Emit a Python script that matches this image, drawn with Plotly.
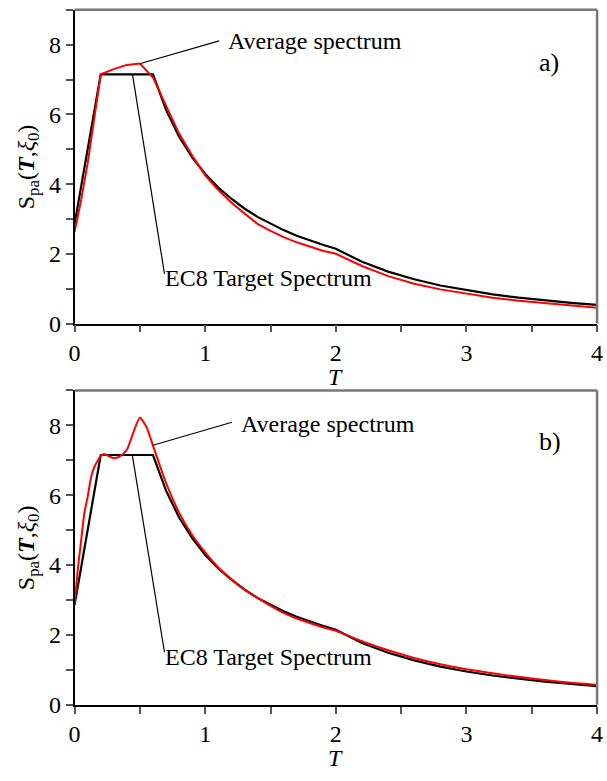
import plotly.graph_objects as go

# EC8 elastic target spectrum (shared by both panels)
T_ec8 = [0.0, 0.2, 0.6, 0.7, 0.8, 0.9, 1.0, 1.1, 1.2, 1.3, 1.4, 1.5, 1.6, 1.7,
         1.8, 1.9, 2.0, 2.2, 2.4, 2.6, 2.8, 3.0, 3.2, 3.4, 3.6, 3.8, 4.0]
S_ec8 = [2.86, 7.15, 7.15, 6.13, 5.36, 4.77, 4.29, 3.90, 3.58, 3.30, 3.06, 2.86, 2.68, 2.52,
         2.38, 2.26, 2.145, 1.77, 1.49, 1.27, 1.09, 0.953, 0.838, 0.742, 0.662, 0.594, 0.536]

# Average spectrum, panel a)
T_avg_a = [0.0, 0.05, 0.1, 0.2, 0.3, 0.4, 0.5, 0.6, 0.7, 0.8, 0.9, 1.0, 1.1, 1.2, 1.3,
           1.4, 1.5, 1.6, 1.7, 1.8, 1.9, 2.0, 2.2, 2.4, 2.6, 2.8, 3.0, 3.2, 3.4, 3.6, 3.8, 4.0]
S_avg_a = [2.63, 3.55, 4.6, 7.15, 7.3, 7.42, 7.46, 7.06, 6.25, 5.45, 4.82, 4.25, 3.83, 3.47, 3.16,
           2.86, 2.66, 2.48, 2.33, 2.2, 2.09, 2.0, 1.65, 1.36, 1.14, 0.98, 0.85, 0.74, 0.655, 0.58, 0.51, 0.45]

# Average spectrum, panel b)
T_avg_b = [0.0, 0.025, 0.05, 0.075, 0.1, 0.125, 0.15, 0.2, 0.225, 0.25, 0.3, 0.35, 0.4, 0.45,
           0.5, 0.55, 0.6, 0.7, 0.8, 0.9, 1.0, 1.1, 1.2, 1.3, 1.4, 1.5, 1.6, 1.7, 1.8, 1.9,
           2.0, 2.2, 2.4, 2.6, 2.8, 3.0, 3.2, 3.4, 3.6, 3.8, 4.0]
S_avg_b = [2.9, 3.9, 4.7, 5.5, 5.95, 6.5, 6.8, 7.12, 7.18, 7.14, 7.06, 7.12, 7.3, 7.8,
           8.22, 7.95, 7.42, 6.35, 5.5, 4.86, 4.36, 3.93, 3.6, 3.3, 3.06, 2.83, 2.63, 2.47, 2.34, 2.22,
           2.12, 1.82, 1.56, 1.34, 1.16, 1.02, 0.9, 0.8, 0.71, 0.63, 0.57]

x_ticks = [0, 1, 2, 3, 4]
y_ticks = [0, 2, 4, 6, 8]

FONT = "Liberation Serif"
W, H = 607, 781

fig = go.Figure()

panels = [
    ("x", "y", T_avg_a, S_avg_a, "linear"),
    ("x2", "y2", T_avg_b, S_avg_b, "spline"),
]
for xr, yr, tx, sy, shape in panels:
    fig.add_trace(go.Scatter(x=T_ec8, y=S_ec8, mode="lines", xaxis=xr, yaxis=yr,
                             line=dict(color="black", width=2.2), showlegend=False))
    fig.add_trace(go.Scatter(x=tx, y=sy, mode="lines", xaxis=xr, yaxis=yr,
                             line=dict(color="#ff0000", width=2, shape=shape, smoothing=0.6),
                             showlegend=False))

# pixel layout of the two panels
x0_px, x1_px = 70, 603
panel_px = [(10, 329), (397, 716.7)]

def xdom():
    return [x0_px / W, x1_px / W]

def ydom(top, bot):
    return [1 - bot / H, 1 - top / H]

axis_common = dict(
    showline=True, linecolor="black", linewidth=1.5,
    ticks="outside", ticklen=7, tickwidth=1.5, tickcolor="#555",
    showgrid=False, zeroline=False,
    tickfont=dict(family=FONT, size=24, color="black"),
    ticklabeloverflow="allow",
)

for i, (top, bot) in enumerate(panel_px):
    sfx = "" if i == 0 else "2"
    fig.update_layout(**{
        "xaxis" + sfx: dict(axis_common, domain=xdom(), range=[0, 4],
                            tickvals=x_ticks, anchor="y" + sfx,
                            minor=dict(dtick=0.5, ticks="outside", ticklen=7,
                                       tickwidth=1.5, tickcolor="#555")),
        "yaxis" + sfx: dict(axis_common, domain=ydom(top, bot), range=[0, 9],
                            tickvals=y_ticks, anchor="x" + sfx,
                            minor=dict(dtick=1, ticks="outside", ticklen=7,
                                       tickwidth=1.5, tickcolor="#555")),
    })
    # grey top and right frame edges
    xd = "x" + sfx + " domain"
    yd = "y" + sfx + " domain"
    fig.add_shape(type="line", xref=xd, yref=yd, x0=0, x1=1, y0=1, y1=1,
                  line=dict(color="#777", width=2.5))
    fig.add_shape(type="line", xref=xd, yref=yd, x0=1, x1=1, y0=0, y1=1,
                  line=dict(color="#777", width=2.5))

annotations = []

def label(xr, yr, x, y, text, size=24, anchor="left"):
    annotations.append(dict(xref=xr, yref=yr, x=x, y=y, text=text, showarrow=False,
                            xanchor=anchor, yanchor="middle",
                            font=dict(family=FONT, size=size, color="black")))

def leader(xr, yr, x, y, ax, ay):
    annotations.append(dict(xref=xr, yref=yr, x=x, y=y, ax=ax, ay=ay,
                            axref=xr, ayref=yr, text="", showarrow=True,
                            arrowhead=0, arrowwidth=1.2, arrowcolor="black"))

# panel a)
leader("x", "y", 0.505, 7.46, 1.118, 8.12)
label("x", "y", 1.16, 8.1, "Average spectrum")
leader("x", "y", 0.443, 7.15, 0.69, 1.38)
label("x", "y", 0.68, 1.3, "EC8 Target Spectrum")
label("x", "y", 3.54, 7.5, "a)", size=26)

# panel b)
leader("x2", "y2", 0.6, 7.43, 1.216, 8.1)
label("x2", "y2", 1.255, 8.05, "Average spectrum")
leader("x2", "y2", 0.443, 7.12, 0.69, 1.46)
label("x2", "y2", 0.68, 1.37, "EC8 Target Spectrum")
label("x2", "y2", 3.54, 7.55, "b)", size=26)

ytitle = "S<sub>pa</sub>(<b><i>T</i></b>,<i>ξ</i><sub>0</sub>)"
for top, bot in panel_px:
    cy = 1 - ((top + bot) / 2) / H
    annotations.append(dict(xref="paper", yref="paper", x=22 / W, y=cy, text=ytitle,
                            textangle=-90, showarrow=False, xanchor="center",
                            yanchor="middle",
                            font=dict(family=FONT, size=24, color="black")))
    annotations.append(dict(xref="paper", yref="paper", x=(x0_px + x1_px) / 2 / W,
                            y=1 - (bot + 39) / H, text="<i>T</i>", showarrow=False,
                            xanchor="center", yanchor="top",
                            font=dict(family=FONT, size=24, color="black")))

fig.update_layout(
    width=W, height=H,
    margin=dict(l=0, r=0, t=0, b=0),
    paper_bgcolor="white", plot_bgcolor="white",
    annotations=annotations,
    showlegend=False,
)

fig.write_html("out.html")
